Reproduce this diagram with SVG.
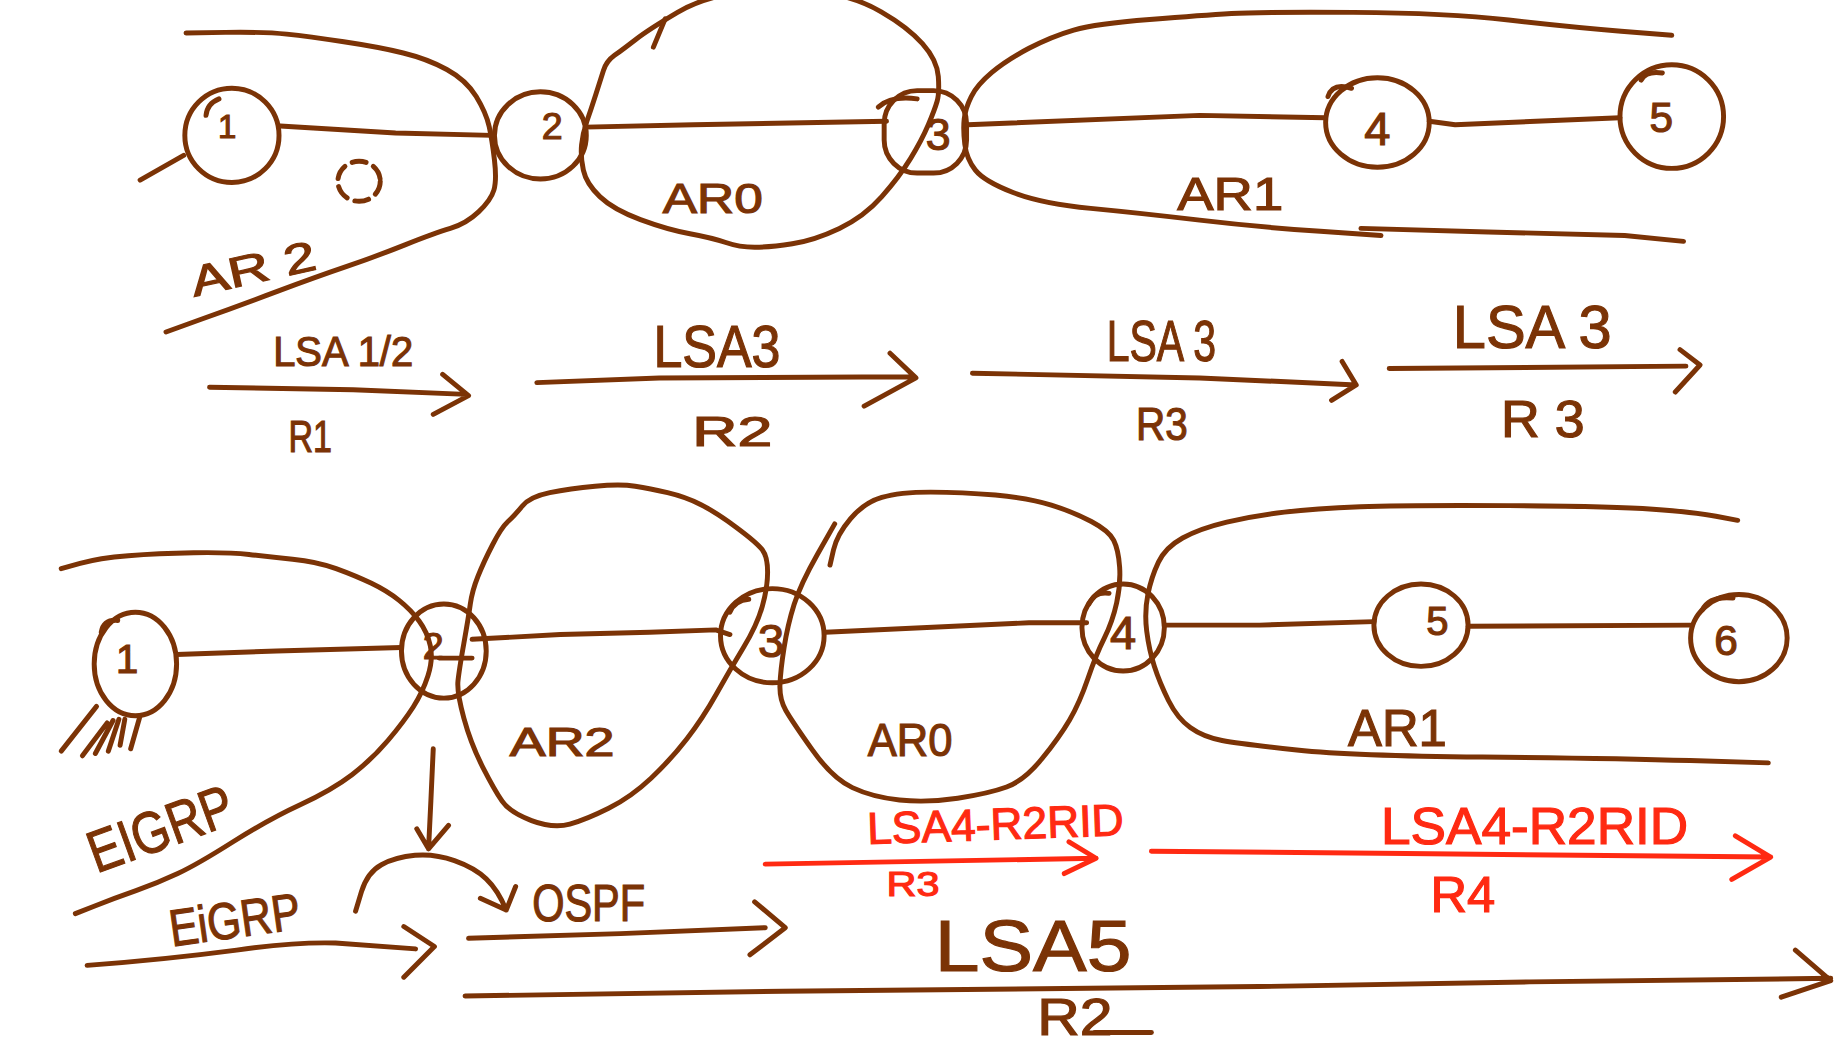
<svg xmlns="http://www.w3.org/2000/svg" width="1846" height="1044" viewBox="0 0 1846 1044">
<style>
.s{fill:none;stroke:#7b3306;stroke-width:4.2;stroke-linecap:round;stroke-linejoin:round}
.r{fill:none;stroke:#ff2a12;stroke-width:4.2;stroke-linecap:round;stroke-linejoin:round}
.d{fill:none;stroke:#7b3306;stroke-width:4.2;stroke-linecap:round;stroke-dasharray:12 7}
.t{fill:#7b3306;stroke:#7b3306;stroke-width:1;font-family:"Liberation Sans",Arial,sans-serif}
.tr{fill:#ff2a12;stroke:#ff2a12;stroke-width:1;font-family:"Liberation Sans",Arial,sans-serif}
.m{text-anchor:middle}
</style>
<rect width="1846" height="1044" fill="#ffffff"/>
<g transform="scale(1.1773)">
<!-- TOP SECTION -->
<g id="top-area-AR2">
<path class="s" d="M158,28 L191.5,27.5 Q225,27 243.5,29 Q262,31 292,35.5 Q322,40 342.5,45 Q363,50 379.5,59 Q396,68 404.5,82 Q413,96 415.5,107.5 Q418,119 420,136 Q422,153 419.5,161.5 Q417,170 406.5,180 Q396,190 382.5,194 Q369,198 344,208 Q319,218 294,226.5 Q269,235 235.5,247.5 Q202,260 171.5,271 L141,282"/>
<ellipse class="d" cx="305" cy="154" rx="18" ry="17"/>
<text class="t" x="165" y="252" font-size="36" textLength="108" lengthAdjust="spacingAndGlyphs" transform="rotate(-12.6 165 252)">AR 2</text>
</g>
<g id="top-area-AR0">
<path class="s" d="M522,47 Q529,42 540,33.5 Q551,25 575.5,10.5 Q600,-4 635,-7 Q670,-10 698,-6.5 Q726,-3 748.5,10 Q771,23 783.5,37 Q796,51 797,65 Q798,79 796,86 Q794,93 788.5,106 Q783,119 773.5,134.5 Q764,150 749,167 Q734,184 713,194 Q692,204 673,207 Q654,210 641,210 Q628,210 616.5,206 Q605,202 586,198.5 Q567,195 544,186.5 Q521,178 509.5,167 Q498,156 495.5,144.5 Q493,133 494,123 Q495,113 498.5,103 Q502,93 506,80.5 Q510,68 512.5,60 Q515,52 522,47"/>
<path class="s" d="M555,40 L565,16"/>
<text class="t" x="563" y="181" font-size="36" textLength="85" lengthAdjust="spacingAndGlyphs">AR0</text>
</g>
<g id="top-area-AR1">
<path class="s" d="M1420,30 L1377,26.5 Q1334,23 1281.5,17 Q1229,11 1149.5,10.5 Q1070,10 1046,11.5 Q1022,13 976.5,16.5 Q931,20 912,25.5 Q893,31 874,41 Q855,51 842.5,61.5 Q830,72 825,82 Q820,92 819,101 Q818,110 819.5,122.5 Q821,135 828.5,144.5 Q836,154 860.5,163.5 Q885,173 926.5,177 Q968,181 1019,187 Q1070,193 1121.5,196.5 L1173,200"/>
<path class="s" d="M1156,194 L1264,197 L1380,200 L1430,205"/>
<text class="t" x="1000" y="178" font-size="40" textLength="90" lengthAdjust="spacingAndGlyphs">AR1</text>
</g>
<g id="top-node-1">
<ellipse class="s" cx="197" cy="115" rx="40" ry="40"/>
<path class="s" d="M175,98 Q176,88 186,84"/>
<path class="s" d="M119,153 L156,132" stroke-width="6"/>
<text class="t m" x="193" y="117" font-size="28">1</text>
</g>
<g id="top-node-2">
<ellipse class="s" cx="459" cy="115" rx="39" ry="37"/>
<text class="t m" x="469" y="118" font-size="32">2</text>
</g>
<g id="top-node-3">
<rect class="s" x="751" y="77" width="70" height="70" rx="28"/>
<path class="s" d="M746,91 Q757,81 779,84"/>
<text class="t m" x="797" y="127" font-size="38">3</text>
</g>
<g id="top-node-4">
<ellipse class="s" cx="1170" cy="104" rx="44" ry="38"/>
<path class="s" d="M1128,82 Q1132,70 1148,75"/>
<text class="t m" x="1170" y="123" font-size="40">4</text>
</g>
<g id="top-node-5">
<ellipse class="s" cx="1420" cy="99" rx="44" ry="44"/>
<path class="s" d="M1394,68 Q1398,60 1412,62"/>
<text class="t m" x="1411" y="112" font-size="36">5</text>
</g>
<!-- BOTTOM SECTION -->
<g id="bottom-area-EIGRP">
<path class="s" d="M52,483 L68,478.5 Q84,474 109,472 Q134,470 164.5,469.5 Q195,469 211.5,471 Q228,473 248.5,475 Q269,477 285.5,483 Q302,489 315.5,495.5 Q329,502 339,510 Q349,518 356,527.5 Q363,537 365.5,548.5 Q368,560 363.5,574 Q359,588 351,600.5 Q343,613 329.5,629 Q316,645 299,658 Q282,671 255,683.5 Q228,696 198,715 Q168,734 151,742 Q134,750 115.5,756.5 Q97,763 80.5,769.5 L64,776"/>
<text class="t" x="82" y="742" font-size="50" textLength="128" lengthAdjust="spacingAndGlyphs" transform="rotate(-20 82 742)">EIGRP</text>
</g>
<g id="bottom-area-AR2">
<path class="s" d="M431.5,443 Q437,438 443.5,430 Q450,422 467,418.5 Q484,415 505.5,413 Q527,411 539.5,413 Q552,415 567,418.5 Q582,422 595,428.5 Q608,435 625.5,448 Q643,461 647.5,467 Q652,473 652,486 Q652,499 647.5,515 Q643,531 631.5,550 Q620,569 608.5,589.5 Q597,610 583.5,627.5 Q570,645 553,661 Q536,677 517,686.5 Q498,696 484,700 Q470,704 451.5,697 Q433,690 426.5,680.5 Q420,671 410,651.5 Q400,632 394,610 Q388,588 389,578.5 Q390,569 394,546.5 Q398,524 399.5,513 Q401,502 406,489.5 Q411,477 418.5,462.5 Q426,448 431.5,443"/>
<text class="t" x="433" y="642" font-size="34" textLength="89" lengthAdjust="spacingAndGlyphs">AR2</text>
</g>
<g id="bottom-area-AR0">
<path class="s" d="M705,480 L708,467 Q711,454 722.5,440.5 Q734,427 749,422.5 Q764,418 790.5,418 Q817,418 845.5,420.5 Q874,423 893,429 Q912,435 927,443 Q942,451 946,459 Q950,467 951,481.5 Q952,496 948.5,512 Q945,528 938,542 Q931,556 924,576.5 Q917,597 908.5,611.5 Q900,626 885,644.5 Q870,663 855,668.5 Q840,674 813.5,678 Q787,682 764,679.5 Q741,677 724,669 Q707,661 690,637 Q673,613 667.5,603.5 Q662,594 662.5,581.5 Q663,569 666,550 Q669,531 674.5,513.5 Q680,496 694.5,470.5 L709,445"/>
<text class="t" x="737" y="642" font-size="40" textLength="72" lengthAdjust="spacingAndGlyphs">AR0</text>
</g>
<g id="bottom-area-AR1">
<path class="s" d="M1476,442 L1457.5,438.5 Q1439,435 1404,432.5 Q1369,430 1281.5,429.5 Q1194,429 1155.5,430.5 Q1117,432 1091,435 Q1065,438 1042,443.5 Q1019,449 1004.5,457 Q990,465 984,477.5 Q978,490 975,505 Q972,520 974,536 Q976,552 980.5,566 Q985,580 992.5,595 Q1000,610 1011,618 Q1022,626 1038,629 Q1054,632 1101.5,637 Q1149,642 1259,643 Q1369,644 1435.5,646 L1502,648"/>
<text class="t" x="1145" y="634" font-size="44" textLength="84" lengthAdjust="spacingAndGlyphs">AR1</text>
</g>
<g id="bottom-node-1">
<ellipse class="s" cx="115" cy="564" rx="35" ry="44"/>
<path class="s" d="M86,537 Q88,526 100,527"/>
<path class="s" d="M52,638 L82,600 M70,642 L91,614 M81,640 L96,612 M92,638 L101,611 M102,633 L106,611 M111,636 L119,608"/>
<text class="t m" x="108" y="572" font-size="34">1</text>
</g>
<g id="bottom-node-2">
<ellipse class="s" cx="377" cy="553" rx="36" ry="40"/>
<text class="t m" x="368" y="560" font-size="32">2</text>
<path class="s" d="M373,559 L401,559"/>
</g>
<g id="bottom-node-3">
<ellipse class="s" cx="656" cy="540" rx="44" ry="40"/>
<path class="s" d="M620,520 Q624,510 636,509"/>
<text class="t m" x="655" y="558" font-size="40">3</text>
</g>
<g id="bottom-node-4">
<ellipse class="s" cx="954" cy="533" rx="35" ry="37"/>
<path class="s" d="M925,513 Q930,502 942,504"/>
<text class="t m" x="954" y="551" font-size="40">4</text>
</g>
<g id="bottom-node-5">
<ellipse class="s" cx="1207" cy="531" rx="40" ry="35"/>
<text class="t m" x="1221" y="539" font-size="34">5</text>
</g>
<g id="bottom-node-6">
<ellipse class="s" cx="1477" cy="542" rx="41" ry="37"/>
<path class="s" d="M1446,518 Q1452,506 1472,508"/>
<text class="t m" x="1466" y="556" font-size="36">6</text>
</g>
<!-- CONNECTORS -->
<g id="connectors">
<path class="s" d="M238,107 L336,113 L418,115"/>
<path class="s" d="M497,108 L589,106 L753,103"/>
<path class="s" d="M822,106 L1019,98 L1126,100"/>
<path class="s" d="M1214,103 L1236,106 L1376,100"/>
<path class="s" d="M150,556 L235,553 L341,550"/>
<path class="s" d="M401,543 L476,539 L552,537 L608,535 L620,539"/>
<path class="s" d="M701,537 L874,529 L923,529"/>
<path class="s" d="M989,531 L1070,531 L1167,528"/>
<path class="s" d="M1247,532 L1436,531"/>
<!-- top flow arrows -->
<path class="s" d="M178,329 L300,331 L396,335 M376,318 L398,336 L368,352"/>
<path class="s" d="M456,325 L560,321 L775,320 M756,300 L778,321 L734,345"/>
<path class="s" d="M826,317 L1019,321 L1152,327 M1140,307 L1152,327 L1131,340"/>
<path class="s" d="M1180,313 L1432,311 M1427,297 L1444,310 L1423,333"/>
<!-- bottom flow arrows -->
<path class="s" d="M368,636 L366,680 L364,721 M354,704 L364,721 L381,701"/>
<path class="s" d="M302,774 L307,757.5 Q312,741 324,734.5 Q336,728 352.5,726.5 Q369,725 386,731 Q403,737 413,746.5 Q423,756 430,773 M408,763 L430,773 L438,753"/>
<path class="s" d="M74,820 Q140,815 201,807 Q250,800 285,801 L353,806 M343,787 L369,804 L343,830"/>
<path class="s" d="M398,797 L527,793 L650,788 M641,766 L667,788 L637,811"/>
<path class="s" d="M395,846 L665,842 L1070,838 L1299,834 L1555,831 M1525,807 L1555,833 L1513,847"/>
<path class="s" d="M930,877 L978,877"/>
<path class="r" d="M650,734 L931,729 M908,715 L931,729 L904,742"/>
<path class="r" d="M978,723 L1194,725 L1504,728 M1474,710 L1504,728 L1471,747"/>
</g>
<g id="labels">
<text class="t" x="232" y="311" font-size="36" textLength="119" lengthAdjust="spacingAndGlyphs">LSA 1/2</text>
<text class="t" x="245" y="384" font-size="38" textLength="37" lengthAdjust="spacingAndGlyphs">R1</text>
<text class="t" x="555" y="312" font-size="50" textLength="108" lengthAdjust="spacingAndGlyphs">LSA3</text>
<text class="t" x="588" y="379" font-size="36" textLength="68" lengthAdjust="spacingAndGlyphs">R2</text>
<text class="t" x="940" y="307" font-size="48" textLength="93" lengthAdjust="spacingAndGlyphs">LSA 3</text>
<text class="t" x="965" y="374" font-size="40" textLength="44" lengthAdjust="spacingAndGlyphs">R3</text>
<text class="t" x="1234" y="296" font-size="52" textLength="135" lengthAdjust="spacingAndGlyphs">LSA 3</text>
<text class="t" x="1275" y="371" font-size="44" textLength="71" lengthAdjust="spacingAndGlyphs">R 3</text>
<text class="t" x="146" y="804" font-size="44" textLength="112" lengthAdjust="spacingAndGlyphs" transform="rotate(-8 146 804)">EiGRP</text>
<text class="t" x="452" y="782" font-size="44" textLength="96" lengthAdjust="spacingAndGlyphs">OSPF</text>
<text class="t" x="794" y="825" font-size="62" textLength="167" lengthAdjust="spacingAndGlyphs">LSA5</text>
<text class="t" x="881" y="879" font-size="44" textLength="64" lengthAdjust="spacingAndGlyphs">R2</text>
<text class="tr" x="737" y="717" font-size="38" textLength="218" lengthAdjust="spacingAndGlyphs" transform="rotate(-2 737 717)">LSA4-R2RID</text>
<text class="tr" x="753" y="761" font-size="30" textLength="45" lengthAdjust="spacingAndGlyphs">R3</text>
<text class="tr" x="1173" y="717" font-size="44" textLength="261" lengthAdjust="spacingAndGlyphs">LSA4-R2RID</text>
<text class="tr" x="1215" y="775" font-size="42" textLength="55" lengthAdjust="spacingAndGlyphs">R4</text>
</g>
</g>
</svg>
